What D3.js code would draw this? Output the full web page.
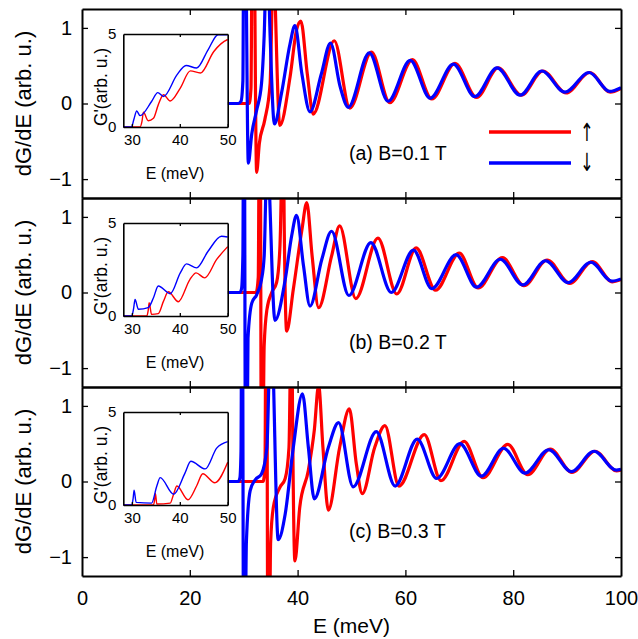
<!DOCTYPE html>
<html>
<head>
<meta charset="utf-8">
<script src="https://cdn.jsdelivr.net/npm/d3@7"></script>
<style>
  body { margin: 0; background: #fff; }
  svg { display: block; font-family: "Liberation Sans", Arial, sans-serif; }
</style>
</head>
<body>
<svg id="chart"></svg>
<script>
const SVG_WIDTH = 638;
const SVG_HEIGHT = 639;

// Tick values.
const xTicks = [0, 20, 40, 60, 80, 100];
const yTicks = [-1, 0, 1];
const insetXTicks = [30, 40, 50];
const insetYTicks = [0, 5];

const panelLabels = ['(a) B=0.1 T', '(b) B=0.2 T', '(c) B=0.3 T'];

// dG/dE, [E (meV), value]. Spin up is red, spin down blue.
const upA = [[27, 0], [31.0, 0.0], [31.35, 0.2], [31.7, 4], [32.4, -0.91], [32.9, -0.53], [33.9, -0.22],
  [34.9, 0.26], [35.25, 1.3], [35.55, 2.2], [35.9, 1.2], [36.7, -0.29], [38.6, 0.35], [39.8, 0.97],
  [40.6, 1.09], [41.8, 0.39], [42.9, -0.14], [46.8, 0.83], [49.7, -0.06], [53.7, 0.68], [57.1, 0.01],
  [61.3, 0.58], [64.9, 0.06], [69.2, 0.53], [73.2, 0.08], [77.2, 0.47], [81.5, 0.11], [85.5, 0.43],
  [89.8, 0.14], [94.2, 0.41], [98.0, 0.15], [100, 0.2]];
const downA = [[27, 0], [29.0, 0.0], [29.5, 0.03], [29.85, 0.3], [30.1, 4], [30.86, -0.79], [31.5, -0.4],
  [32.4, -0.09], [33.3, 0.26], [33.8, 0.9], [34.35, 2.2], [34.9, 0.9], [35.7, -0.27], [37.0, 0.13],
  [38.6, 0.79], [39.5, 1.03], [40.8, 0.39], [42.3, -0.11], [44.4, 0.39], [46.1, 0.8], [47.9, 0.22],
  [49.4, -0.05], [53.3, 0.67], [56.8, 0.03], [60.9, 0.57], [64.6, 0.07], [68.9, 0.52], [72.9, 0.09],
  [77.0, 0.47], [81.3, 0.11], [85.3, 0.43], [89.6, 0.15], [94.1, 0.41], [97.9, 0.16], [100, 0.21]];

const upB = [[27, 0], [32.3, 0.0], [32.7, 0.2], [33.0, 4], [33.35, -4], [33.8, -0.7], [34.3, -0.23],
  [35.2, 0], [36.1, 0.13], [36.7, 0.57], [37.0, 1.5], [37.25, 3], [37.5, 1.0], [37.97, -0.51],
  [39.2, 0.04], [40.8, 0.83], [41.7, 1.19], [42.7, 0.48], [43.9, -0.2], [46.3, 0.48], [47.8, 0.88],
  [50.8, -0.08], [54.9, 0.72], [58.4, -0.02], [62.0, 0.59], [65.6, 0.03], [70.0, 0.52], [73.5, 0.06],
  [78.0, 0.46], [82.0, 0.09], [86.3, 0.43], [90.5, 0.12], [94.7, 0.41], [98.4, 0.14], [100, 0.17]];
const downB = [[27, 0], [29.3, 0.0], [29.6, 0.05], [29.85, 0.5], [30.05, 4], [30.4, -4], [30.8, -0.6],
  [31.5, -0.14], [32.4, -0.03], [33.3, 0.17], [33.8, 0.48], [34.1, 1.3], [34.45, 2.0], [34.8, 1.3],
  [35.8, -0.37], [37.7, 0.17], [38.9, 0.75], [39.8, 1.02], [41.1, 0.35], [42.3, -0.18], [44.5, 0.44],
  [46.3, 0.81], [49.5, -0.04], [53.6, 0.66], [57.4, 0.0], [61.5, 0.56], [64.9, 0.05], [69.4, 0.5],
  [73.2, 0.07], [77.6, 0.44], [81.8, 0.1], [86.0, 0.42], [90.2, 0.13], [94.4, 0.4], [98.3, 0.15], [100, 0.18]];

const upC = [[27, 0], [33.6, 0.0], [33.95, 0.2], [34.2, 4], [34.55, -4], [35.0, -0.8], [35.5, -0.34],
  [36.7, -0.08], [37.7, 0.04], [38.4, 0.45], [38.65, 1.6], [38.85, 3], [39.05, 1.0], [39.5, -1.05],
  [40.4, -0.34], [42.0, 0.15], [43.1, 0.68], [43.9, 1.27], [44.7, 0.45], [45.7, -0.38], [47.8, 0.45],
  [49.6, 0.96], [50.9, 0.23], [52.0, -0.16], [54.3, 0.45], [56.2, 0.74], [58.8, -0.06], [63.5, 0.62],
  [66.6, 0.01], [70.9, 0.53], [74.4, 0.05], [79.0, 0.49], [82.7, 0.09], [86.9, 0.43], [90.9, 0.12],
  [95.2, 0.4], [99.2, 0.14], [100, 0.15]];
const downC = [[27, 0], [29.0, 0.0], [29.3, 0.05], [29.5, 0.4], [29.7, 4], [30.05, -4], [30.5, -0.8],
  [31.2, -0.12], [32.1, 0.02], [33.3, 0.1], [34.3, 0.45], [34.7, 1.4], [35.1, 2.5], [35.5, 1.4],
  [36.4, -0.77], [37.7, -0.43], [39.2, 0.45], [40.9, 1.16], [42.0, 0.45], [43.1, -0.23], [45.7, 0.45],
  [47.6, 0.78], [50.3, -0.07], [54.6, 0.66], [58.1, -0.06], [62.2, 0.56], [65.8, 0.04], [70.1, 0.5],
  [74.1, 0.07], [78.2, 0.44], [82.2, 0.11], [86.6, 0.42], [90.8, 0.13], [95.0, 0.4], [99.1, 0.15], [100, 0.16]];

// Inset conductance G, [E (meV), G].
const insetUpA = [[28.2, 0], [31.7, 0], [32.1, 0.3], [32.4, 0.79], [33.4, 0.34], [34.5, 0.47], [35.5, 1.19],
  [36.6, 1.73], [38.0, 1.4], [40.1, 2.09], [42.2, 3.02], [44.3, 2.9], [47.1, 4.06], [49.9, 4.69], [50, 4.7]];
const insetDownA = [[28.2, 0], [29.9, 0], [30.4, 0.4], [31.0, 0.86], [31.7, 0.61], [34.1, 1.37],
  [35.4, 1.85], [36.6, 1.64], [39.4, 2.8], [41.3, 3.31], [43.5, 3.17], [45.9, 4.15], [48.0, 4.96], [50, 4.96]];
const insetUpB = [[28.2, 0], [33.1, 0], [33.4, 0.3], [33.6, 0.71], [34.1, 0.09], [35.5, 0.13], [36.6, 0.8],
  [37.6, 1.3], [39.7, 0.77], [42.1, 1.96], [43.4, 2.32], [45.2, 2.05], [47.7, 3.04], [50, 3.73]];
const insetDownB = [[28.2, 0], [29.95, 0], [30.35, 0.4], [30.65, 0.89], [31.35, 0.36], [33.4, 0.45],
  [34.5, 0.98], [35.5, 1.61], [38.0, 1.2], [40.1, 2.32], [41.4, 2.8], [43.5, 2.59], [45.9, 3.48],
  [48.7, 4.29], [50, 4.25]];
const insetUpC = [[28.2, 0], [34.5, 0], [34.75, 0.3], [34.9, 0.64], [35.2, 0.05], [38.0, 0.1], [38.7, 0.58],
  [39.4, 1.02], [41.7, 0.28], [43.5, 1.02], [44.8, 1.68], [47.3, 1.2], [50, 2.3]];
const insetDownC = [[28.2, 0], [29.97, 0], [30.25, 0.35], [30.46, 0.8], [30.88, 0.14], [34.1, 0.1],
  [35.2, 1.02], [35.9, 1.47], [38.7, 0.58], [41.1, 1.73], [42.3, 2.35], [45.3, 1.94], [47.7, 3.06], [50, 3.41]];

const panels = [
  {label: panelLabels[0], up: upA, down: downA, insetUp: insetUpA, insetDown: insetDownA},
  {label: panelLabels[1], up: upB, down: downB, insetUp: insetUpB, insetDown: insetDownB},
  {label: panelLabels[2], up: upC, down: downC, insetUp: insetUpC, insetDown: insetDownC}
];

const RED = '#ff0000';
const BLUE = '#0000ff';

const PLOT_LEFT = 82;
const PLOT_RIGHT = 621;
const PLOT_TOP = 9;
const PANEL_HEIGHT = 189;

const svg = d3
  .select('#chart')
  .attr('width', SVG_WIDTH)
  .attr('height', SVG_HEIGHT)
  .attr('viewBox', `0 0 ${SVG_WIDTH} ${SVG_HEIGHT}`);

const x = d3.scaleLinear().domain([0, 100]).range([PLOT_LEFT, PLOT_RIGHT]);
const ix = d3.scaleLinear().domain([28.2, 50]).range([123.3, 227.7]);

function styleAxis(g, width) {
  g.select('.domain').attr('stroke', '#000').attr('stroke-width', width);
  g.selectAll('.tick line').attr('stroke', '#000').attr('stroke-width', 1.3);
  g.selectAll('.tick text').attr('fill', '#000');
}

panels.forEach((p, i) => {
  const top = PLOT_TOP + i * PANEL_HEIGHT;
  const bottom = top + PANEL_HEIGHT;
  const y = d3.scaleLinear().domain([-1.25, 1.25]).range([bottom, top]);
  const g = svg.append('g');

  // Clip the curves to the panel.
  const clipId = 'clip' + i;
  svg.append('clipPath').attr('id', clipId)
    .append('rect')
    .attr('x', PLOT_LEFT).attr('y', top)
    .attr('width', PLOT_RIGHT - PLOT_LEFT).attr('height', PANEL_HEIGHT);

  const line = d3.line()
    .x(d => x(d[0]))
    .y(d => y(d[1]))
    .curve(d3.curveMonotoneX);

  const curves = g.append('g').attr('clip-path', `url(#${clipId})`);
  [[p.up, RED], [p.down, BLUE]].forEach(([data, color]) => {
    curves.append('path')
      .datum(data)
      .attr('d', line)
      .attr('fill', 'none')
      .attr('stroke', color)
      .attr('stroke-width', 3.2)
      .attr('stroke-linejoin', 'round');
  });

  // Frame with inward ticks on all four sides.
  const left = g.append('g')
    .attr('transform', `translate(${PLOT_LEFT},0)`)
    .call(d3.axisLeft(y).tickValues(yTicks).tickSize(-6).tickSizeOuter(0).tickPadding(10)
      .tickFormat(d => (d < 0 ? '\u2212' : '') + Math.abs(d)))
    .attr('font-size', 20).attr('font-family', null);
  styleAxis(left, 2);

  const right = g.append('g')
    .attr('transform', `translate(${PLOT_RIGHT},0)`)
    .call(d3.axisRight(y).tickValues(yTicks).tickSize(-6).tickSizeOuter(0).tickFormat(''));
  styleAxis(right, 2);

  const topAxis = g.append('g')
    .attr('transform', `translate(0,${top})`)
    .call(d3.axisTop(x).tickValues(xTicks.slice(1, -1)).tickSize(-6).tickSizeOuter(0).tickFormat(''));
  styleAxis(topAxis, 2);

  const bottomAxis = g.append('g')
    .attr('transform', `translate(0,${bottom})`)
    .call(d3.axisBottom(x).tickValues(i === 2 ? xTicks : xTicks.slice(1, -1))
      .tickSize(-6).tickSizeOuter(0).tickPadding(15)
      .tickFormat(i === 2 ? d3.format('d') : ''))
    .attr('font-size', 20).attr('font-family', null);
  styleAxis(bottomAxis, 2);
  // The ticks at 0 and 100 sit on the frame corners, so hide their lines.
  bottomAxis.selectAll('.tick')
    .filter(d => d === 0 || d === 100)
    .select('line').remove();

  // Axis label on the left.
  g.append('text')
    .attr('transform', `translate(31,${(top + bottom) / 2}) rotate(-90)`)
    .attr('text-anchor', 'middle')
    .attr('font-size', 22)
    .text('dG/dE (arb. u.)');

  // Panel label.
  g.append('text')
    .attr('x', 349)
    .attr('y', top + 150.5)
    .attr('font-size', 19.5)
    .text(p.label);

  // Inset with the conductance.
  const insetTop = top + 25;
  const insetBottom = insetTop + 93;
  const iy = d3.scaleLinear().domain([0, 5]).range([insetBottom, insetTop]);
  const inset = g.append('g');
  inset.append('rect')
    .attr('x', ix.range()[0]).attr('y', insetTop)
    .attr('width', ix.range()[1] - ix.range()[0]).attr('height', insetBottom - insetTop)
    .attr('fill', '#fff');

  const insetLine = d3.line()
    .x(d => ix(d[0]))
    .y(d => iy(d[1]))
    .curve(d3.curveMonotoneX);
  [[p.insetUp, RED], [p.insetDown, BLUE]].forEach(([data, color]) => {
    inset.append('path')
      .datum(data)
      .attr('d', insetLine)
      .attr('fill', 'none')
      .attr('stroke', color)
      .attr('stroke-width', 1.4);
  });

  const iLeft = inset.append('g')
    .attr('transform', `translate(${ix.range()[0]},0)`)
    .call(d3.axisLeft(iy).tickValues(insetYTicks).tickSize(0).tickPadding(7).tickFormat(d3.format('d')))
    .attr('font-size', 15).attr('font-family', null);
  styleAxis(iLeft, 1.6);
  const iRight = inset.append('g')
    .attr('transform', `translate(${ix.range()[1]},0)`)
    .call(d3.axisRight(iy).tickValues(insetYTicks).tickSize(0).tickFormat(''));
  styleAxis(iRight, 1.6);
  const iTop = inset.append('g')
    .attr('transform', `translate(0,${insetTop})`)
    .call(d3.axisTop(ix).tickValues([40]).tickSize(-3).tickSizeOuter(0).tickFormat(''));
  styleAxis(iTop, 1.6);
  const iBottom = inset.append('g')
    .attr('transform', `translate(0,${insetBottom})`)
    .call(d3.axisBottom(ix).tickValues(insetXTicks).tickSize(-3).tickSizeOuter(0).tickPadding(7))
    .attr('font-size', 15).attr('font-family', null);
  styleAxis(iBottom, 1.6);

  inset.append('text')
    .attr('x', 175)
    .attr('y', insetBottom + 52)
    .attr('text-anchor', 'middle')
    .attr('font-size', 16)
    .text('E (meV)');

  inset.append('text')
    .attr('transform', `translate(107,${insetTop + 53}) rotate(-90)`)
    .attr('text-anchor', 'middle')
    .attr('font-size', 17.5)
    .text("G'(arb. u.)");
});

// Legend in panel (a).
const ARROW_SIZE = 25;
const legend = svg.append('g');
[[RED, 132, 133, '\u2191'], [BLUE, 163, 163, '\u2193']].forEach(([color, ly, ay, arrow]) => {
  legend.append('line')
    .attr('x1', 489).attr('x2', 571)
    .attr('y1', ly).attr('y2', ly)
    .attr('stroke', color)
    .attr('stroke-width', 3.5);
  // The arrow glyph is squeezed a little to look as thin as the original.
  legend.append('text')
    .attr('transform', `translate(587,${ay + 0.33 * ARROW_SIZE}) scale(0.65,1)`)
    .attr('text-anchor', 'middle')
    .attr('font-family', '"DejaVu Sans", sans-serif')
    .attr('font-size', ARROW_SIZE)
    .attr('fill', '#000')
    .text(arrow);
});

// Shared x axis label.
svg.append('text')
  .attr('x', (PLOT_LEFT + PLOT_RIGHT) / 2)
  .attr('y', 633)
  .attr('text-anchor', 'middle')
  .attr('font-size', 21)
  .text('E (meV)');
</script>
</body>
</html>
